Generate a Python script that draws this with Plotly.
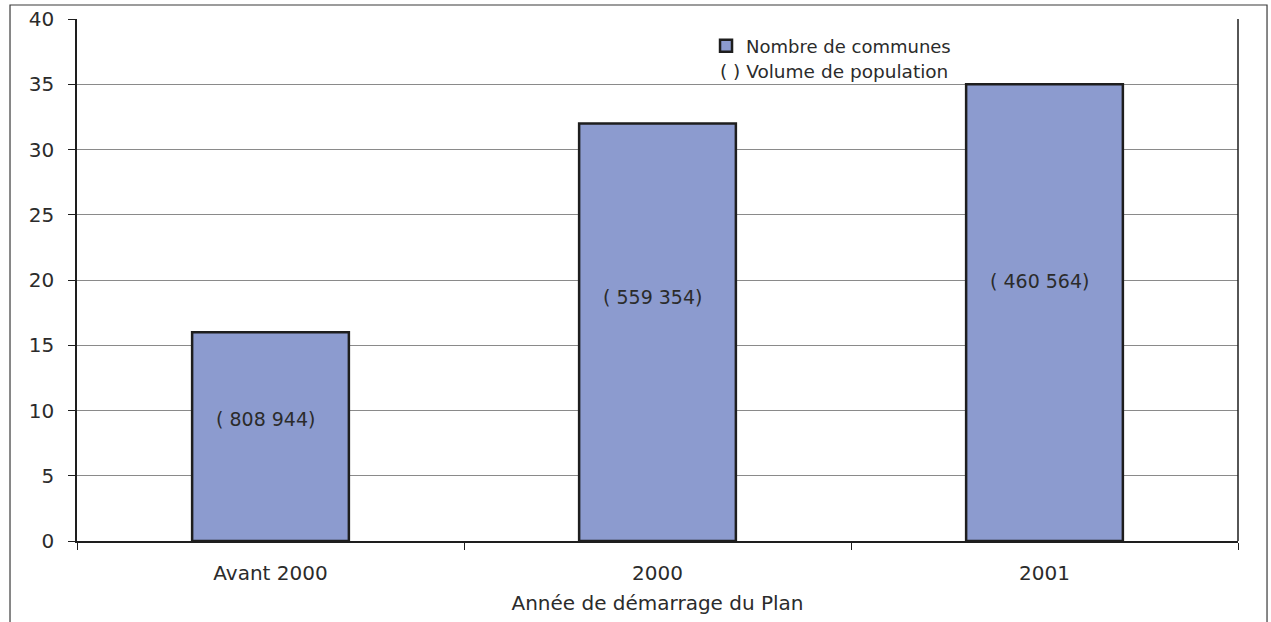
import plotly.graph_objects as go

categories = ["Avant 2000", "2000", "2001"]
communes = [16, 32, 35]
population_labels = ["( 808 944)", "( 559 354)", "( 460 564)"]
label_y = [9.35, 18.7, 19.9]
y_ticks = [0, 5, 10, 15, 20, 25, 30, 35, 40]

FONT = "DejaVu Sans"
TXT = "#2b2b2b"

xpos = list(range(len(categories)))

fig = go.Figure()
fig.add_trace(go.Bar(
    x=xpos, y=communes, name="Nombre de communes",
    width=0.405,
    marker=dict(color="#8c9bcf", line=dict(color="#1e1e1e", width=2.5)),
))

for xi, lab, yy in zip(xpos, population_labels, label_y):
    fig.add_annotation(x=xi, y=yy, text=lab, showarrow=False, xshift=-5,
                       font=dict(family=FONT, size=19, color=TXT))

fig.add_annotation(xref="paper", yref="paper", x=0.5521, y=0.8985, xanchor="left",
                   yanchor="middle", text="( ) Volume de population", showarrow=False,
                   font=dict(family=FONT, size=18.5, color=TXT))

# outer chart-area border
fig.add_shape(type="rect", xref="paper", yref="paper", x0=-0.0577, x1=1.025,
              y0=-0.2, y1=1.0268, line=dict(color="#3a3a3a", width=1.2), layer="below")
# right border of plot area
fig.add_shape(type="line", xref="paper", yref="paper", x0=1, x1=1, y0=0, y1=1,
              line=dict(color="#1e1e1e", width=1.5))

fig.update_layout(
    width=1271, height=622,
    margin=dict(l=77, r=33, t=19, b=81),
    paper_bgcolor="white", plot_bgcolor="white",
    font=dict(family=FONT, size=18, color=TXT),
    showlegend=True,
    legend=dict(x=0.5418, y=0.948, xanchor="left", yanchor="middle",
                bgcolor="rgba(0,0,0,0)", font=dict(family=FONT, size=18, color=TXT)),
)
fig.update_xaxes(
    range=[-0.5, 2.5], tickvals=xpos, ticktext=categories,
    ticks="outside", ticklen=7, tickcolor="rgba(0,0,0,0)",
    minor=dict(tick0=0.5, dtick=1, ticks="outside", ticklen=7, tickcolor="#1e1e1e",
               showgrid=False),
    showline=True, linecolor="#1e1e1e", linewidth=1.5, showgrid=False, zeroline=False,
    tickangle=0, automargin=False, ticklabelstandoff=6,
    tickfont=dict(family=FONT, size=20, color=TXT),
    title=dict(text="Année de démarrage du Plan", standoff=12,
               font=dict(family=FONT, size=20, color=TXT)),
)
fig.update_yaxes(
    range=[0, 40], tickvals=y_ticks, ticks="outside", ticklen=7, tickcolor="#1e1e1e",
    showline=True, linecolor="#1e1e1e", linewidth=1.5, automargin=False,
    ticklabelstandoff=10,
    showgrid=True, gridcolor="#8a8a8a", gridwidth=1, zeroline=False,
    tickfont=dict(family=FONT, size=20, color=TXT),
)

fig.write_html("out.html")
